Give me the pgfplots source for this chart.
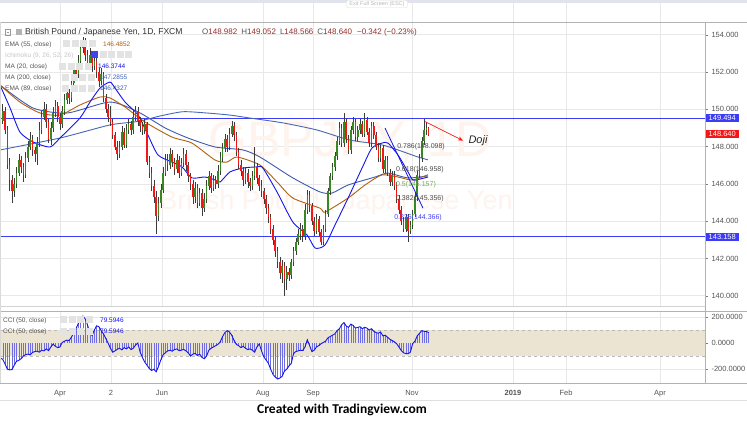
\documentclass[border=0pt]{standalone}
\usepackage{pgfplots}
\pgfplotsset{compat=1.18}
\usepackage{pgfplotstable}
\usepackage{fontspec}
\setmainfont{Liberation Sans}
\newfontfamily\carlito{Carlito}
\usetikzlibrary{arrows.meta}

\definecolor{upg}{RGB}{55,135,35}
\definecolor{dnr}{RGB}{242,24,24}
\definecolor{wick}{RGB}{60,60,60}
\definecolor{ema55}{RGB}{176,96,16}
\definecolor{ma20}{RGB}{20,20,235}
\definecolor{ma200}{RGB}{72,102,182}
\definecolor{ema89}{RGB}{60,90,175}
\definecolor{hline}{RGB}{60,60,245}
\definecolor{gridc}{RGB}{232,232,232}
\definecolor{band}{RGB}{236,228,210}
\definecolor{axc}{RGB}{125,125,125}
\definecolor{lbl}{RGB}{85,85,85}
\definecolor{wm}{RGB}{254,243,237}
\definecolor{ohlc}{RGB}{150,45,45}
\definecolor{hatch}{RGB}{110,110,225}
\definecolor{fibg}{RGB}{110,170,80}
\definecolor{topbar}{RGB}{224,227,235}

\pgfplotstableread{
i o h l c
-25 149.4 150.3 149.2 149.9
-24 149.9 150.1 148.7 148.9
-23 148.9 149.1 146.8 147.0
-22 147.0 147.4 145.6 146.2
-21 146.2 146.5 145.0 145.6
-20 145.6 146.3 145.3 146.0
-19 146.0 146.9 145.8 146.6
-18 146.6 147.6 146.4 147.3
-17 147.3 147.5 146.6 146.9
-16 146.9 147.1 146.1 146.5
-15 146.5 147.7 146.3 147.4
-14 147.4 148.3 147.2 148.0
-13 148.0 148.8 147.8 148.4
-12 148.4 148.6 147.5 147.8
-11 147.8 148.0 147.2 147.6
-10 147.6 148.5 147.0 148.2
-9 148.2 149.3 148.0 148.9
-8 148.9 149.9 148.7 149.6
-7 149.6 150.4 149.4 150.0
-6 150.0 150.3 149.0 149.3
-5 149.3 149.5 148.2 148.4
-4 148.4 149.3 148.1 149.0
-3 149.0 150.1 148.8 149.8
-2 149.8 150.5 149.6 150.2
-1 150.2 150.4 149.3 149.6
0 149.6 149.8 148.9 149.2
1 149.2 150.2 149.0 149.9
2 149.9 150.8 149.7 150.5
3 150.5 151.2 150.3 150.9
4 150.9 151.1 150.3 150.6
5 150.6 151.7 150.4 151.4
6 151.4 152.4 151.2 152.1
7 152.1 152.4 151.6 151.9
8 151.9 152.9 151.7 152.6
9 152.6 153.6 152.4 153.3
10 153.3 153.9 153.0 153.6
11 153.6 153.8 152.6 152.9
12 152.9 153.2 152.2 152.5
13 152.5 153.3 152.3 152.9
14 152.9 153.1 152.0 152.3
15 152.3 152.9 152.1 152.6
16 152.6 152.8 151.7 152.0
17 152.0 152.2 151.2 151.5
18 151.5 152.2 151.3 151.9
19 151.9 152.0 150.4 150.6
20 150.6 150.8 149.8 150.0
21 150.0 150.3 149.3 149.6
22 149.6 150.2 149.1 149.3
23 149.3 149.5 148.4 148.6
24 148.6 148.8 147.8 148.0
25 148.0 148.3 147.3 147.6
26 147.6 148.3 147.4 148.0
27 148.0 149.1 147.8 148.8
28 148.8 149.0 147.9 148.1
29 148.1 149.2 147.9 148.9
30 148.9 149.5 148.7 149.2
31 149.2 149.4 148.6 148.9
32 148.9 149.9 148.7 149.6
33 149.6 150.2 149.4 149.9
34 149.9 150.1 149.1 149.4
35 149.4 149.6 148.8 149.1
36 149.1 149.3 148.6 148.9
37 148.9 149.5 148.7 149.2
38 149.2 149.3 147.0 147.2
39 147.2 147.5 146.3 146.6
40 146.6 146.9 145.6 145.9
41 145.9 146.2 145.0 145.3
42 145.3 145.6 143.3 144.3
43 144.3 145.3 144.0 145.0
44 145.0 146.0 144.7 145.7
45 145.7 146.9 145.5 146.6
46 146.6 147.6 146.4 147.3
47 147.3 147.6 146.7 147.0
48 147.0 147.9 146.8 147.6
49 147.6 147.8 146.9 147.2
50 147.2 147.4 146.5 146.8
51 146.8 147.6 146.6 147.3
52 147.3 147.5 146.3 146.6
53 146.6 147.4 146.4 147.1
54 147.1 147.9 146.9 147.6
55 147.6 147.8 146.7 147.0
56 147.0 147.2 146.1 146.4
57 146.4 146.6 145.7 146.0
58 146.0 146.2 144.9 145.3
59 145.3 146.1 145.0 145.8
60 145.8 146.0 144.7 145.0
61 145.0 145.8 144.8 145.5
62 145.5 145.7 144.3 144.7
63 144.7 145.5 144.5 145.2
64 145.2 146.2 145.0 145.9
65 145.9 146.7 145.7 146.4
66 146.4 146.6 145.5 145.8
67 145.8 146.5 145.6 146.2
68 146.2 146.4 145.7 146.0
69 146.0 147.0 145.8 146.7
70 146.7 147.7 146.5 147.4
71 147.4 148.2 147.2 147.9
72 147.9 148.7 147.7 148.4
73 148.4 148.6 147.7 148.0
74 148.0 149.0 147.8 148.7
75 148.7 149.4 148.5 149.1
76 149.1 149.3 148.3 148.6
77 148.6 148.8 147.5 147.7
78 147.7 147.9 146.8 147.0
79 147.0 147.3 146.4 146.7
80 146.7 146.9 145.9 146.2
81 146.2 146.9 146.0 146.6
82 146.6 146.8 145.8 146.1
83 146.1 146.3 145.6 145.9
84 145.9 146.7 145.7 146.4
85 146.4 148.0 146.2 146.9
86 146.9 147.1 146.0 146.3
87 146.3 146.5 145.6 145.9
88 145.9 146.2 145.3 145.6
89 145.6 145.8 144.9 145.2
90 145.2 145.4 144.4 144.7
91 144.7 144.9 143.9 144.2
92 144.2 144.4 143.3 143.6
93 143.6 143.8 142.7 143.0
94 143.0 143.2 142.1 142.4
95 142.4 142.6 141.5 141.8
96 141.8 142.1 140.9 141.2
97 141.2 141.9 140.7 141.6
98 141.6 141.8 140.0 140.9
99 140.9 141.6 140.3 141.3
100 141.3 141.5 140.8 141.1
101 141.1 142.0 140.9 141.8
102 141.8 142.6 141.6 142.4
103 142.4 143.1 142.2 142.9
104 142.9 143.6 142.7 143.3
105 143.3 143.9 143.0 143.6
106 143.6 143.8 142.9 143.2
107 143.2 144.9 143.0 144.6
108 144.6 145.7 144.4 145.4
109 145.4 145.6 144.5 144.8
110 144.8 145.0 143.8 144.0
111 144.0 144.2 143.2 143.5
112 143.5 144.4 143.3 144.1
113 144.1 144.3 143.2 143.4
114 143.4 143.6 142.7 142.9
115 142.9 143.8 142.7 143.6
116 143.6 144.6 143.4 144.4
117 144.4 145.8 144.2 145.6
118 145.6 146.6 145.4 146.4
119 146.4 147.1 146.2 146.9
120 146.9 147.7 146.7 147.5
121 147.5 148.5 147.3 148.3
122 148.3 149.3 148.1 149.0
123 149.0 149.2 148.0 148.2
124 148.2 149.8 148.0 149.3
125 149.3 149.5 148.2 148.4
126 148.4 148.6 147.6 147.8
127 147.8 149.1 147.6 148.9
128 148.9 149.6 148.7 149.3
129 149.3 149.5 148.3 148.5
130 148.5 149.1 148.3 148.9
131 148.9 149.5 148.7 149.2
132 149.2 149.4 148.5 148.7
133 148.7 149.8 148.5 149.4
134 149.4 149.6 148.6 148.8
135 148.8 149.0 148.0 148.2
136 148.2 149.3 148.0 149.1
137 149.1 149.3 148.4 148.6
138 148.6 148.8 147.8 148.0
139 148.0 148.2 147.2 147.4
140 147.4 148.1 147.2 147.9
141 147.9 148.1 146.6 146.8
142 146.8 147.5 146.6 147.3
143 147.3 147.5 146.4 146.6
144 146.6 146.8 145.9 146.1
145 146.1 146.7 145.9 146.5
146 146.5 146.7 145.7 145.9
147 145.9 146.1 145.0 145.2
148 145.2 145.4 144.4 144.6
149 144.6 144.8 143.8 144.0
150 144.0 144.2 143.4 143.6
151 143.6 144.4 143.4 144.2
152 144.2 144.4 142.9 143.5
153 143.5 144.0 143.3 143.8
154 143.8 144.6 143.6 144.4
155 144.4 145.5 144.2 145.3
156 145.3 146.7 145.1 146.5
157 146.5 147.6 146.3 147.4
158 147.4 148.5 147.2 148.3
159 148.3 149.5 148.1 148.9
160 148.9 149.3 148.6 148.982
161 148.982 149.052 148.566 148.640
}\candles

\pgfplotstableread{
i v
-26 -115
-25 -125
-24 -160
-23 -200
-22 -205
-21 -203
-20 -170
-19 -140
-18 -132
-17 -120
-16 -100
-15 -88
-14 -85
-13 -90
-12 -72
-11 -65
-10 -62
-9 -70
-8 -55
-7 -60
-6 -45
-5 -58
-4 -30
-3 -8
-2 -25
-1 -35
0 -30
1 5
2 15
3 22
4 20
5 45
6 80
7 110
8 150
9 175
10 207
11 185
12 140
13 80
14 58
15 100
16 132
17 125
18 95
19 70
20 35
21 0
22 -40
23 -70
24 -60
25 -48
26 -40
27 -52
28 -35
29 -45
30 -30
31 -50
32 -40
33 -15
34 0
35 -70
36 -110
37 -145
38 -170
39 -195
40 -210
41 -200
42 -220
43 -180
44 -130
45 -90
46 -75
47 -60
48 -55
49 -62
50 -50
51 -45
52 -58
53 -55
54 -48
55 -60
56 -75
57 -100
58 -85
59 -80
60 -95
61 -85
62 -110
63 -120
64 -100
65 -55
66 -40
67 -30
68 -20
69 -10
70 10
71 50
72 80
73 95
74 85
75 60
76 20
77 -10
78 -20
79 -35
80 -25
81 -40
82 -50
83 -45
84 -55
85 -70
86 -30
87 -7
88 -60
89 -105
90 -130
91 -155
92 -200
93 -240
94 -260
95 -275
96 -268
97 -255
98 -215
99 -200
100 -175
101 -155
102 -80
103 -65
104 -60
105 -55
106 -57
107 -30
108 25
109 -20
110 -65
111 -55
112 -30
113 -20
114 -5
115 5
116 15
117 40
118 50
119 60
120 70
121 95
122 110
123 140
124 157
125 130
126 120
127 145
128 135
129 115
130 120
131 125
132 110
133 120
134 115
135 100
136 110
137 90
138 80
139 75
140 85
141 55
142 60
143 45
144 30
145 20
146 10
147 -5
148 -30
149 -57
150 -75
151 -80
152 -82
153 -70
154 -5
155 15
156 55
157 75
158 95
159 90
160 88
161 79.59
}\cci

\begin{document}
\begin{tikzpicture}[x=1pt,y=1pt]
\path[use as bounding box, fill=white] (0,0) rectangle (747,423);
\fill[topbar] (0,420) rectangle (747,423);

% ---------------- main price pane ----------------
\begin{axis}[
  name=main, at={(0pt,117pt)}, anchor=south west, scale only axis,
  width=705pt, height=284pt,
  xmin=-26.2, xmax=281.66, ymin=139.453, ymax=154.681,
  axis line style={draw=none},
  xtick={0,22.3,44.5,88.6,110.5,153.7,197.8,221,262}, xticklabels={},
  xtick style={draw=none},
  ytick={140,142,...,154}, ytick pos=right, yticklabel pos=right,
  /pgf/number format/assume math mode=true,
  yticklabel style={font=\fontsize{7.5}{8}\selectfont, color=lbl,
    /pgf/number format/fixed, /pgf/number format/fixed zerofill,
    /pgf/number format/precision=3},
  ytick style={axc}, major tick length=3pt, tick align=outside,
  xmajorgrids, ymajorgrids, grid style={gridc, line width=0.6pt},
  clip=false,
]
% watermark
\node[text=wm, font=\fontsize{50}{50}\selectfont] at (axis cs:126.6,148.25) {GBPJPY, 1D};
\node[text=wm, font=\fontsize{27}{27}\selectfont] at (axis cs:120.5,144.98) {British Pound / Japanese Yen};

% horizontal levels
\addplot[hline, line width=1.2pt] coordinates {(-26.2,149.494) (281.66,149.494)};
\addplot[hline, line width=1.2pt] coordinates {(-26.2,143.158) (281.66,143.158)};

% moving averages
\addplot[ma200, line width=0.9pt, smooth, tension=0.4] coordinates {
(-26.2,147.82) (0,148.46) (21.8,149.16) (34.1,149.35) (43.7,149.64) (53.7,149.87)
(64.2,149.80) (74.2,149.69) (83.0,149.53) (97.4,149.27) (112.2,148.89) (126.6,148.35)
(141.0,148.08) (155.9,147.46) (160.7,147.29)};
\addplot[ema89, line width=0.9pt, smooth, tension=0.4] coordinates {
(-26.2,151.30) (-11.8,150.07) (3.1,149.80) (21.8,150.39) (34.1,149.86) (45.9,149.00)
(55.9,148.46) (67.7,147.98) (79.9,147.82) (87.3,147.44) (101.7,146.32) (113.5,145.57)
(118.8,145.51) (125.8,145.94) (137.6,146.37) (143.2,146.58) (152.0,146.32) (160.7,146.43)};
\addplot[ema55, line width=0.9pt, smooth, tension=0.4] coordinates {
(-26.2,151.30) (-17.5,150.39) (-8.7,149.80) (0,149.69) (8.7,150.23) (17.5,150.66)
(21.8,150.61) (28.4,150.12) (37.1,149.32) (48.9,148.51) (57.6,148.19) (67.7,147.28)
(72.9,147.17) (77.3,147.44) (87.3,147.01) (94.8,146.10) (101.7,145.24) (113.5,144.70)
(115.7,144.49) (125.8,145.24) (133.2,145.94) (140.6,146.48) (147.6,146.37) (153.7,146.21)
(160.7,146.49)};
\addplot[ma20, line width=0.9pt, smooth, tension=0.4] coordinates {
(-26.2,151.30) (-21.8,150.07) (-17.5,148.78) (-11.8,148.25) (-4.4,147.98) (0,148.46)
(8.7,149.53) (13.1,150.39) (17.5,151.14) (21.8,151.46) (24.0,151.14) (28.4,150.39)
(34.1,149.69) (38.4,148.62) (42.8,147.55) (48.9,147.17) (53.3,146.91) (57.6,146.32)
(63.3,146.37) (67.7,146.21) (69.9,146.10) (74.2,146.64) (79.9,146.85) (86.0,146.91)
(88.6,146.85) (94.8,145.56) (101.7,143.95) (107.9,143.26) (111.4,142.56) (115.7,142.72)
(120.1,143.80) (125.8,145.24) (131.9,146.85) (136.2,147.92) (140.6,148.19) (143.2,148.19)
(147.6,147.55) (152.0,146.64) (154.1,146.21) (157.2,146.26) (160.7,146.37)};

% candles: wicks
\addplot[draw=none, mark=none, error bars/.cd, y dir=both, y explicit, error mark=none,
  error bar style={draw=wick, line width=0.5pt}]
  table[x=i, y expr={(\thisrow{h}+\thisrow{l})/2},
        y error expr={(\thisrow{h}-\thisrow{l})/2}] {\candles};
% up bodies
\addplot[draw=none, mark=none, restrict y to domain=130:160,
  error bars/.cd, y dir=both, y explicit, error mark=none,
  error bar style={draw=upg, line width=1.6pt}]
  table[x=i, y expr={ifthenelse(\thisrow{c}>\thisrow{o},(\thisrow{o}+\thisrow{c})/2,1000)},
        y error expr={max(abs(\thisrow{c}-\thisrow{o})/2,0.03)}] {\candles};
% down bodies
\addplot[draw=none, mark=none, restrict y to domain=130:160,
  error bars/.cd, y dir=both, y explicit, error mark=none,
  error bar style={draw=dnr, line width=1.6pt}]
  table[x=i, y expr={ifthenelse(\thisrow{c}>\thisrow{o},1000,(\thisrow{o}+\thisrow{c})/2)},
        y error expr={max(abs(\thisrow{c}-\thisrow{o})/2,0.03)}] {\candles};

% fib trend line
\addplot[ma20, line width=0.8pt] coordinates {(141.9,149.0) (158.5,144.7)};

% fib labels
\node[anchor=west, inner sep=0pt, text=black!70, font=\fontsize{7}{8}\selectfont] at (axis cs:147.2,148.0) {0.786(148.098)};
\node[anchor=west, inner sep=0pt, text=black!70, font=\fontsize{7}{8}\selectfont] at (axis cs:146.7,146.78) {0.618(146.958)};
\node[anchor=west, inner sep=0pt, text=fibg, font=\fontsize{7}{8}\selectfont] at (axis cs:146.7,145.98) {0.5(146.157)};
\node[anchor=west, inner sep=0pt, text=black!70, font=\fontsize{7}{8}\selectfont] at (axis cs:146.7,145.23) {0.382(145.356)};
\node[anchor=west, inner sep=0pt, text=ma20!80, font=\fontsize{7}{8}\selectfont] at (axis cs:145.9,144.21) {0.236(144.366)};

% Doji annotation
\draw[dnr, line width=0.7pt, -{Stealth[length=5pt,width=4pt]}] (axis cs:159.4,149.34) -- (axis cs:176,148.32);
\node[anchor=west, inner sep=0pt, text=black!85, font=\itshape\fontsize{11}{12}\selectfont] at (axis cs:178.3,148.33) {Doji};
\end{axis}

% ---------------- CCI pane ----------------
\begin{axis}[
  name=cci, at={(0pt,40pt)}, anchor=south west, scale only axis,
  width=705pt, height=71pt,
  xmin=-26.2, xmax=281.66, ymin=-305.7, ymax=237.7,
  axis line style={draw=none},
  xtick={0,22.3,44.5,88.6,110.5,153.7,197.8,221,262},
  xticklabels={Apr,2,Jun,Aug,Sep,Nov,\textbf{2019},Feb,Apr},
  xticklabel style={font=\fontsize{7.5}{8}\selectfont, color=lbl, yshift=-1pt},
  xtick style={draw=none},
  ytick={-200,0,200}, ytick pos=right, yticklabel pos=right,
  /pgf/number format/assume math mode=true,
  yticklabel style={font=\fontsize{7.5}{8}\selectfont, color=lbl,
    /pgf/number format/fixed, /pgf/number format/fixed zerofill,
    /pgf/number format/precision=4},
  ytick style={axc}, major tick length=3pt, tick align=outside,
  xmajorgrids, ymajorgrids, grid style={gridc, line width=0.6pt},
]
\fill[band] (axis cs:-26.2,-100) rectangle (axis cs:281.66,100);
\draw[gray!55, dashed, line width=0.6pt] (axis cs:-26.2,100) -- (axis cs:281.66,100);
\draw[gray!55, dashed, line width=0.6pt] (axis cs:-26.2,-100) -- (axis cs:281.66,-100);
\addplot[ycomb, color=hatch, line width=0.4pt] table[x=i, y=v] {\cci};
\addplot[color=ma20, line width=0.9pt] table[x=i, y=v] {\cci};
\end{axis}

% ---------------- frames ----------------
\foreach \gx in {60,111.1,161.9,262.9,313.0,412.0,513.0,566.1,660.0}
  {\draw[gridc, line width=0.6pt] (\gx,401) -- (\gx,420);}
\draw[gray!60, line width=0.8pt] (0,401) -- (747,401);
\draw[gray!35, line width=0.6pt] (0,117) -- (705,117);
\draw[gray!60, line width=0.8pt] (0,112) -- (747,112);
\draw[gray!60, line width=0.8pt] (0,40) -- (747,40);
\draw[gray!60, line width=0.8pt] (705,401) -- (705,40);
\draw[gray!30, line width=0.6pt] (0.5,40) -- (0.5,401);
\draw[gray!25, line width=0.6pt] (0,23) -- (747,23);

% price boxes
\node[anchor=west, fill=hline, text=white, inner xsep=3pt, inner ysep=1.5pt, font=\fontsize{7.5}{8}\selectfont] at (705.5,305) {149.494};
\node[anchor=west, fill=dnr, text=white, inner xsep=3pt, inner ysep=1.5pt, font=\fontsize{7.5}{8}\selectfont] at (705.5,289) {148.640};
\node[anchor=west, fill=hline, text=white, inner xsep=3pt, inner ysep=1.5pt, font=\fontsize{7.5}{8}\selectfont] at (705.5,186) {143.158};

% exit full screen button
\node[anchor=north, draw=gray!25, fill=white, rounded corners=2pt, text=gray!55, inner xsep=3pt, inner ysep=1.2pt, font=\fontsize{5.5}{6}\selectfont] at (377,423) {Exit Full Screen (ESC)};

% title legend
\draw[gray!80, line width=0.5pt] (5,388) rectangle (10.5,393.5);
\draw[gray!80, line width=0.5pt] (6.5,390.75) -- (9,390.75);
\fill[gray!60] (16,388) rectangle (21.5,393.5);
\node[anchor=base west, inner sep=0pt, text=black!80, font=\fontsize{8.6}{9}\selectfont] at (25,388) {British Pound / Japanese Yen, 1D, FXCM};
\node[anchor=base west, inner sep=0pt, font=\fontsize{8}{9}\selectfont] at (202,388)
 {\textcolor{lbl}{O}\textcolor{ohlc}{148.982}\hspace{4pt}\textcolor{lbl}{H}\textcolor{ohlc}{149.052}\hspace{4pt}\textcolor{lbl}{L}\textcolor{ohlc}{148.566}\hspace{4pt}\textcolor{lbl}{C}\textcolor{ohlc}{148.640}\hspace{5pt}\textcolor{ohlc}{−0.342 (−0.23\%)}};

% indicator legends
\node[anchor=base west, inner sep=0pt, text=lbl, font=\fontsize{6.5}{7}\selectfont] at (5,376.5) {EMA (55, close)};
\node[anchor=base west, inner sep=0pt, text=gray!45, font=\fontsize{6.5}{7}\selectfont] at (5,365.5) {Ichimoku (9, 26, 52, 26)};
\node[anchor=base west, inner sep=0pt, text=lbl, font=\fontsize{6.5}{7}\selectfont] at (5,354) {MA (20, close)};
\node[anchor=base west, inner sep=0pt, text=lbl, font=\fontsize{6.5}{7}\selectfont] at (5,343) {MA (200, close)};
\node[anchor=base west, inner sep=0pt, text=lbl, font=\fontsize{6.5}{7}\selectfont] at (5,332) {EMA (89, close)};
\foreach \yy/\xx in {376.5/63,354/59,343/62,332/62}{
  \foreach \k in {0,1,2,3}{\fill[gray!22] (\xx+8.5*\k,\yy-0.8) rectangle (\xx+8.5*\k+7,\yy+6.2);}
}
\foreach \k in {0,1,2,3,4}{\fill[gray!22] (91+8.5*\k,364.7) rectangle (98+8.5*\k,371.7);}
\fill[ma20!80] (91,364.7) rectangle (98,371.7);
\node[anchor=base west, inner sep=0pt, text=ema55, font=\fontsize{6.5}{7}\selectfont] at (103,376.5) {146.4852};
\node[anchor=base west, inner sep=0pt, text=ma20, font=\fontsize{6.5}{7}\selectfont] at (98,354) {146.3744};
\node[anchor=base west, inner sep=0pt, text=ma200, font=\fontsize{6.5}{7}\selectfont] at (100,343) {147.2855};
\node[anchor=base west, inner sep=0pt, text=ema89, font=\fontsize{6.5}{7}\selectfont] at (100,332) {146.4327};

% CCI legends
\node[anchor=base west, inner sep=0pt, text=lbl, font=\fontsize{6.5}{7}\selectfont] at (3,100.5) {CCI (50, close)};
\node[anchor=base west, inner sep=0pt, text=lbl, font=\fontsize{6.5}{7}\selectfont] at (3,89) {CCI (50, close)};
\foreach \yy in {100.5,89}{
  \foreach \k in {0,1,2,3}{\fill[gray!22] (60+8.5*\k,\yy-0.8) rectangle (67+8.5*\k,\yy+6.2);}
}
\node[anchor=base west, inner sep=0pt, text=ma20, font=\fontsize{6.5}{7}\selectfont] at (100,100.5) {79.5946};
\node[anchor=base west, inner sep=0pt, text=ma20, font=\fontsize{6.5}{7}\selectfont] at (100,89) {79.5946};

% footer
\node[font=\carlito\bfseries\fontsize{13.5}{14}\selectfont, text=black] at (342,13) {Created with Tradingview.com};
\end{tikzpicture}
\end{document}
